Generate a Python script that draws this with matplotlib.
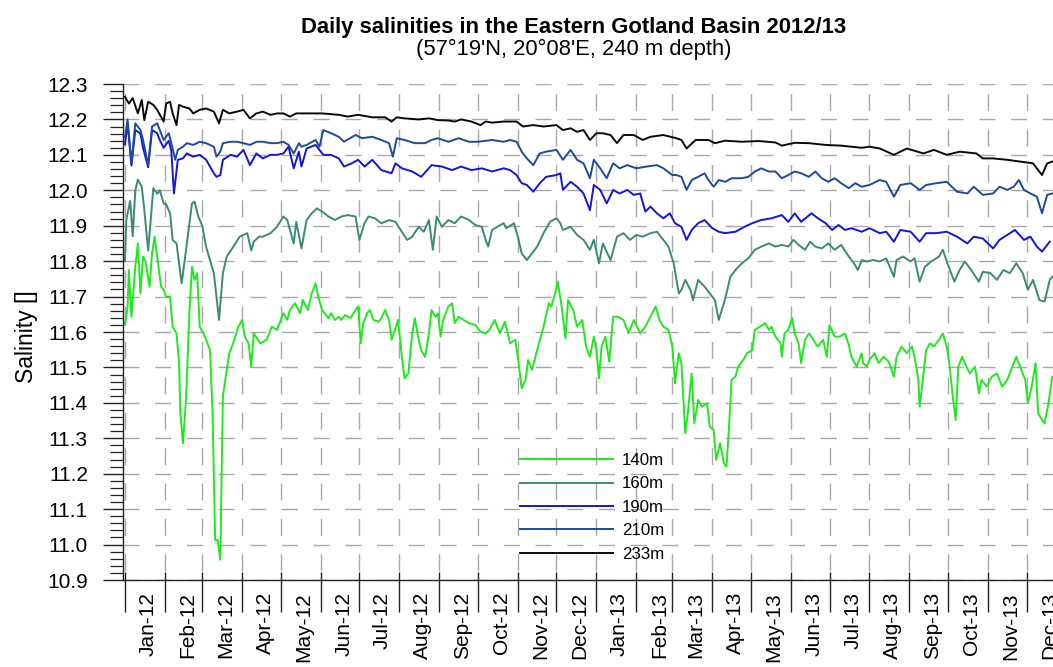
import numpy as np
import pandas as pd
import matplotlib
matplotlib.use("Agg")
import matplotlib.pyplot as plt
import matplotlib.dates as mdates
from matplotlib.ticker import MultipleLocator, FormatStrFormatter, NullFormatter

plt.rcParams['font.family'] = ['Liberation Sans', 'DejaVu Sans']

t0 = pd.Timestamp('2012-01-01')

# daily salinity, stored as (days since 1 Jan 2012, salinity)
s140 = [(0, 11.62), (2, 11.67), (3, 11.775), (5, 11.643), (8, 11.784), (10, 11.85), (12, 11.709), (14, 11.813),
        (16, 11.799), (19, 11.728), (21, 11.822), (23, 11.869), (26, 11.784), (28, 11.728), (30, 11.719), (32, 11.7),
        (35, 11.7), (37, 11.615), (40, 11.596), (42, 11.512), (43, 11.371), (45, 11.286), (47, 11.389), (48, 11.465),
        (50, 11.653), (52, 11.784), (54, 11.747), (56, 11.766), (58, 11.615), (61, 11.596), (63, 11.578), (66, 11.549),
        (68, 11.371), (70, 11.013), (72, 11.013), (74, 10.957), (75, 11.182), (76, 11.418), (79, 11.493), (81, 11.54),
        (84, 11.568), (88, 11.615), (91, 11.634), (93, 11.587), (96, 11.568), (98, 11.502), (100, 11.596), (105, 11.568),
        (110, 11.578), (114, 11.615), (118, 11.606), (123, 11.653), (126, 11.634), (128, 11.662), (132, 11.681),
        (136, 11.653), (138, 11.69), (142, 11.662), (145, 11.709), (148, 11.737), (150, 11.7), (153, 11.662),
        (155, 11.653), (158, 11.639), (160, 11.653), (163, 11.634), (166, 11.643), (168, 11.634), (171, 11.648),
        (175, 11.639), (179, 11.662), (181, 11.672), (183, 11.568), (185, 11.625), (188, 11.653), (190, 11.662),
        (193, 11.634), (197, 11.629), (199, 11.639), (202, 11.662), (205, 11.634), (207, 11.578), (210, 11.61),
        (212, 11.634), (215, 11.53), (217, 11.469), (220, 11.483), (223, 11.596), (225, 11.639), (228, 11.578),
        (230, 11.549), (233, 11.53), (236, 11.596), (238, 11.662), (241, 11.643), (243, 11.653), (245, 11.587),
        (247, 11.634), (251, 11.672), (254, 11.681), (256, 11.625), (259, 11.643), (263, 11.634), (267, 11.625),
        (272, 11.62), (276, 11.601), (280, 11.596), (283, 11.606), (287, 11.634), (291, 11.596), (295, 11.629),
        (299, 11.568), (303, 11.578), (305, 11.53), (308, 11.441), (311, 11.465), (313, 11.521), (316, 11.493),
        (320, 11.549), (325, 11.615), (329, 11.681), (331, 11.672), (334, 11.709), (336, 11.742), (339, 11.672),
        (342, 11.582), (344, 11.69), (348, 11.662), (351, 11.615), (355, 11.634), (358, 11.559), (361, 11.53),
        (364, 11.587), (366, 11.549), (368, 11.469), (370, 11.559), (373, 11.587), (376, 11.516), (379, 11.643),
        (383, 11.643), (387, 11.634), (391, 11.596), (395, 11.634), (400, 11.596), (404, 11.615), (408, 11.643),
        (412, 11.672), (415, 11.634), (418, 11.615), (422, 11.606), (425, 11.559), (427, 11.455), (430, 11.54),
        (432, 11.512), (435, 11.314), (437, 11.371), (440, 11.483), (442, 11.342), (445, 11.408), (448, 11.389),
        (452, 11.399), (454, 11.333), (457, 11.324), (459, 11.239), (462, 11.286), (465, 11.229), (467, 11.22),
        (469, 11.333), (471, 11.465), (474, 11.474), (476, 11.502), (480, 11.521), (483, 11.54), (487, 11.549),
        (489, 11.606), (493, 11.615), (497, 11.625), (500, 11.606), (502, 11.615), (505, 11.587), (509, 11.568),
        (510, 11.53), (512, 11.596), (515, 11.606), (518, 11.639), (520, 11.596), (523, 11.568), (525, 11.512),
        (528, 11.578), (531, 11.596), (533, 11.587), (536, 11.568), (538, 11.559), (542, 11.578), (545, 11.53),
        (547, 11.62), (551, 11.587), (555, 11.587), (559, 11.596), (562, 11.563), (564, 11.53), (568, 11.502),
        (572, 11.54), (573, 11.512), (576, 11.502), (578, 11.521), (582, 11.54), (585, 11.512), (589, 11.53),
        (593, 11.516), (597, 11.474), (599, 11.53), (603, 11.559), (607, 11.54), (611, 11.559), (613, 11.53),
        (616, 11.465), (617, 11.389), (620, 11.483), (622, 11.549), (625, 11.568), (628, 11.559), (632, 11.578),
        (635, 11.596), (638, 11.559), (640, 11.512), (643, 11.408), (645, 11.352), (647, 11.502), (650, 11.53),
        (652, 11.512), (656, 11.483), (660, 11.502), (663, 11.427), (665, 11.465), (669, 11.446), (673, 11.474),
        (677, 11.483), (681, 11.446), (685, 11.465), (688, 11.493), (692, 11.53), (695, 11.502), (699, 11.465),
        (701, 11.399), (704, 11.446), (707, 11.512), (709, 11.371), (712, 11.352), (714, 11.342), (717, 11.399),
        (720, 11.474)]

s160 = [(0, 11.80), (1, 11.916), (4, 11.97), (6, 11.87), (8, 12.0), (10, 12.03), (13, 12.01), (15, 11.945),
        (18, 11.83), (21, 11.963), (22, 12.006), (25, 11.99), (27, 12.0), (30, 11.963), (32, 11.96), (35, 11.935),
        (37, 11.86), (40, 11.85), (44, 11.737), (47, 11.82), (52, 11.963), (54, 11.968), (57, 11.925), (60, 11.9),
        (63, 11.84), (69, 11.766), (73, 11.634), (76, 11.766), (79, 11.813), (84, 11.84), (89, 11.869), (95, 11.879),
        (98, 11.83), (100, 11.855), (104, 11.869), (107, 11.869), (113, 11.879), (118, 11.897), (123, 11.926),
        (126, 11.916), (131, 11.85), (133, 11.911), (137, 11.836), (141, 11.916), (145, 11.935), (149, 11.949),
        (153, 11.94), (158, 11.926), (163, 11.916), (168, 11.926), (173, 11.93), (179, 11.926), (182, 11.86),
        (186, 11.907), (189, 11.926), (194, 11.921), (199, 11.907), (205, 11.916), (210, 11.911), (214, 11.888),
        (219, 11.86), (223, 11.869), (228, 11.897), (232, 11.883), (236, 11.916), (239, 11.832), (242, 11.926),
        (246, 11.897), (251, 11.916), (256, 11.907), (261, 11.926), (267, 11.916), (272, 11.902), (277, 11.897),
        (280, 11.86), (282, 11.841), (285, 11.888), (289, 11.897), (294, 11.907), (296, 11.893), (302, 11.907),
        (305, 11.869), (308, 11.822), (312, 11.803), (316, 11.822), (320, 11.841), (325, 11.879), (330, 11.911),
        (335, 11.921), (338, 11.907), (340, 11.888), (346, 11.897), (351, 11.874), (356, 11.86), (361, 11.832),
        (364, 11.86), (368, 11.794), (371, 11.85), (377, 11.803), (382, 11.869), (387, 11.879), (392, 11.86),
        (397, 11.874), (402, 11.869), (408, 11.879), (413, 11.883), (418, 11.86), (422, 11.841), (426, 11.794),
        (430, 11.709), (432, 11.719), (435, 11.747), (439, 11.719), (441, 11.69), (445, 11.747), (450, 11.728),
        (454, 11.709), (458, 11.69), (461, 11.634), (465, 11.681), (467, 11.709), (470, 11.756), (474, 11.775),
        (479, 11.794), (484, 11.808), (489, 11.832), (494, 11.841), (500, 11.85), (505, 11.841), (510, 11.846),
        (515, 11.841), (519, 11.86), (523, 11.846), (528, 11.832), (532, 11.855), (536, 11.841), (541, 11.836),
        (546, 11.85), (551, 11.832), (556, 11.846), (562, 11.813), (566, 11.794), (569, 11.775), (572, 11.803),
        (576, 11.799), (581, 11.803), (586, 11.799), (591, 11.808), (597, 11.756), (599, 11.803), (604, 11.813),
        (610, 11.799), (613, 11.808), (617, 11.742), (621, 11.784), (626, 11.799), (632, 11.813), (635, 11.832),
        (639, 11.789), (644, 11.742), (648, 11.775), (652, 11.799), (657, 11.775), (663, 11.742), (666, 11.77),
        (672, 11.766), (677, 11.747), (682, 11.775), (687, 11.766), (692, 11.794), (697, 11.766), (701, 11.719),
        (705, 11.747), (710, 11.69), (714, 11.686), (718, 11.747), (720, 11.756)]

s190 = [(0, 12.13), (2, 12.19), (5, 12.07), (8, 12.17), (12, 12.16), (14, 12.12), (18, 12.065), (21, 12.17),
        (25, 12.161), (27, 12.142), (30, 12.12), (34, 12.14), (36, 12.11), (38, 11.991), (41, 12.086), (45, 12.09),
        (48, 12.104), (53, 12.095), (58, 12.1), (63, 12.086), (69, 12.048), (71, 12.038), (74, 12.043), (76, 12.086),
        (82, 12.1), (87, 12.095), (92, 12.114), (97, 12.071), (102, 12.104), (107, 12.09), (113, 12.1), (118, 12.1),
        (123, 12.104), (127, 12.123), (131, 12.062), (135, 12.109), (137, 12.067), (141, 12.118), (148, 12.128),
        (151, 12.114), (154, 12.1), (160, 12.1), (166, 12.09), (170, 12.067), (176, 12.076), (181, 12.086),
        (186, 12.067), (192, 12.086), (199, 12.057), (207, 12.048), (210, 12.076), (215, 12.062), (223, 12.053),
        (230, 12.038), (238, 12.071), (246, 12.067), (254, 12.057), (261, 12.067), (269, 12.057), (277, 12.062),
        (285, 12.053), (294, 12.062), (299, 12.057), (304, 12.043), (308, 12.02), (312, 12.015), (317, 11.996),
        (322, 12.02), (327, 12.038), (335, 12.043), (338, 12.048), (340, 12.001), (346, 12.024), (351, 12.01),
        (356, 11.991), (361, 11.944), (364, 12.015), (369, 12.001), (374, 11.963), (379, 12.001), (384, 11.991),
        (390, 12.001), (395, 11.987), (400, 11.991), (404, 11.94), (408, 11.954), (413, 11.935), (418, 11.921),
        (423, 11.935), (427, 11.907), (432, 11.897), (436, 11.86), (440, 11.888), (445, 11.907), (450, 11.916),
        (456, 11.893), (461, 11.883), (466, 11.879), (474, 11.883), (481, 11.897), (487, 11.907), (494, 11.916),
        (502, 11.921), (510, 11.93), (515, 11.911), (520, 11.935), (525, 11.911), (533, 11.935), (538, 11.921),
        (544, 11.907), (549, 11.888), (554, 11.902), (559, 11.888), (564, 11.893), (572, 11.883), (578, 11.893),
        (586, 11.879), (591, 11.883), (597, 11.855), (602, 11.888), (610, 11.883), (617, 11.855), (622, 11.879),
        (630, 11.879), (638, 11.883), (646, 11.869), (654, 11.85), (659, 11.869), (666, 11.864), (674, 11.836),
        (679, 11.86), (685, 11.874), (691, 11.888), (698, 11.86), (703, 11.869), (708, 11.841), (712, 11.827),
        (718, 11.855)]

s210 = [(0, 12.15), (2, 12.2), (5, 12.076), (8, 12.189), (12, 12.17), (14, 12.142), (18, 12.071), (21, 12.18),
        (25, 12.189), (27, 12.17), (30, 12.142), (34, 12.161), (36, 12.133), (39, 12.086), (41, 12.114), (45, 12.123),
        (48, 12.133), (53, 12.128), (58, 12.137), (63, 12.133), (69, 12.123), (71, 12.095), (74, 12.109), (76, 12.133),
        (82, 12.137), (87, 12.137), (92, 12.133), (97, 12.128), (102, 12.137), (107, 12.137), (113, 12.133),
        (118, 12.133), (123, 12.137), (127, 12.128), (131, 12.104), (135, 12.133), (137, 12.123), (141, 12.128),
        (148, 12.142), (151, 12.123), (154, 12.17), (160, 12.161), (166, 12.151), (170, 12.137), (179, 12.156),
        (184, 12.147), (192, 12.151), (199, 12.142), (205, 12.133), (208, 12.095), (211, 12.147), (217, 12.142),
        (225, 12.133), (233, 12.133), (238, 12.142), (243, 12.147), (251, 12.137), (259, 12.147), (267, 12.137),
        (274, 12.137), (285, 12.142), (294, 12.137), (299, 12.142), (304, 12.137), (308, 12.109), (312, 12.09),
        (317, 12.071), (322, 12.104), (327, 12.109), (335, 12.114), (340, 12.086), (346, 12.114), (351, 12.086),
        (356, 12.076), (361, 12.034), (364, 12.086), (369, 12.062), (374, 12.034), (379, 12.076), (384, 12.062),
        (390, 12.071), (397, 12.062), (405, 12.067), (413, 12.071), (418, 12.062), (425, 12.043), (428, 12.043),
        (432, 12.038), (436, 12.001), (440, 12.029), (445, 12.038), (450, 12.048), (453, 12.029), (457, 12.01),
        (461, 12.029), (466, 12.024), (471, 12.034), (479, 12.034), (484, 12.038), (489, 12.053), (494, 12.062),
        (500, 12.053), (505, 12.053), (510, 12.034), (515, 12.043), (520, 12.053), (525, 12.048), (531, 12.038),
        (536, 12.053), (541, 12.034), (546, 12.024), (551, 12.034), (556, 12.02), (562, 12.006), (567, 12.02),
        (572, 12.01), (578, 12.015), (586, 12.029), (591, 12.024), (597, 11.982), (602, 12.015), (610, 12.02),
        (617, 12.001), (622, 12.015), (630, 12.02), (638, 12.024), (646, 11.996), (654, 11.991), (659, 12.01),
        (666, 11.987), (674, 11.991), (679, 12.01), (685, 12.001), (690, 12.01), (694, 12.029), (698, 12.001),
        (703, 11.991), (708, 11.982), (712, 11.935), (716, 11.987), (720, 11.991)]

s233 = [(0, 12.264), (3, 12.245), (6, 12.26), (10, 12.217), (13, 12.255), (15, 12.198), (18, 12.25), (22, 12.241),
        (25, 12.227), (30, 12.194), (32, 12.245), (35, 12.25), (37, 12.217), (40, 12.184), (42, 12.241), (45, 12.236),
        (50, 12.231), (53, 12.217), (58, 12.227), (63, 12.231), (69, 12.222), (73, 12.189), (76, 12.227), (81, 12.217),
        (87, 12.222), (92, 12.227), (97, 12.203), (102, 12.217), (107, 12.222), (113, 12.213), (118, 12.217),
        (123, 12.217), (128, 12.208), (133, 12.217), (141, 12.217), (153, 12.217), (166, 12.213), (173, 12.208),
        (181, 12.213), (192, 12.206), (202, 12.206), (207, 12.194), (211, 12.206), (217, 12.203), (228, 12.2),
        (236, 12.203), (243, 12.198), (251, 12.197), (256, 12.194), (261, 12.2), (269, 12.194), (276, 12.184),
        (280, 12.194), (285, 12.191), (294, 12.194), (304, 12.194), (309, 12.18), (317, 12.184), (325, 12.18),
        (335, 12.184), (340, 12.17), (346, 12.175), (351, 12.165), (356, 12.17), (361, 12.142), (366, 12.161),
        (371, 12.161), (377, 12.156), (382, 12.133), (387, 12.156), (395, 12.156), (402, 12.142), (408, 12.151),
        (418, 12.156), (428, 12.147), (432, 12.142), (436, 12.118), (443, 12.142), (453, 12.142), (458, 12.133),
        (466, 12.14), (479, 12.137), (492, 12.139), (505, 12.135), (510, 12.126), (520, 12.134), (531, 12.133),
        (544, 12.128), (556, 12.126), (572, 12.12), (578, 12.123), (586, 12.118), (597, 12.1), (607, 12.118),
        (620, 12.104), (628, 12.114), (638, 12.1), (648, 12.109), (661, 12.104), (666, 12.09), (674, 12.09),
        (685, 12.086), (695, 12.081), (705, 12.076), (712, 12.043), (716, 12.076), (720, 12.081)]

series = [s140, s160, s190, s210, s233]
depths = ['140m', '160m', '190m', '210m', '233m']
colours = ['#1fe81f', '#3a8c6c', '#1414dc', '#1e4a9c', '#0a0a0a']

PT = 0.72  # one pixel in points at 100 dpi

fig = plt.figure(figsize=(10.53, 6.67), dpi=100)
ax = fig.add_axes([123 / 1053, 87 / 667, 943.5 / 1053, 496 / 667])
ax.set_axisbelow(True)

for pts, lab, c in zip(series, depths, colours):
    d, v = np.array(pts, dtype=float).T
    ax.plot(t0 + pd.to_timedelta(d, unit='D'), v, color=c, lw=1.4, label=lab)

ax.set_ylim(10.9, 12.3)
ax.set_xlim(t0 - pd.Timedelta(days=1.55), t0 + pd.Timedelta(days=731))

# y axis
ax.yaxis.set_major_locator(MultipleLocator(0.1))
ax.yaxis.set_minor_locator(MultipleLocator(0.02))
ax.yaxis.set_major_formatter(FormatStrFormatter('%.1f'))
ax.tick_params(axis='y', which='major', direction='out', length=20 * PT, width=1.0,
               pad=15 * PT, labelsize=15, color='#222222')
ax.tick_params(axis='y', which='minor', direction='out', length=13 * PT, width=0.9, color='#222222')

# x axis: long ticks at month starts, labels inside each month
ax.xaxis.set_major_locator(mdates.MonthLocator())
ax.xaxis.set_major_formatter(NullFormatter())
ax.xaxis.set_minor_locator(mdates.MonthLocator(bymonthday=19))
ax.xaxis.set_minor_formatter(mdates.DateFormatter('%b-%y'))
ax.tick_params(axis='x', which='major', direction='out', length=32 * PT, width=1.0, color='#222222')
ax.tick_params(axis='x', which='minor', length=0, pad=12 * PT, labelsize=15, labelrotation=90)
month_starts = pd.date_range('2012-01-01', '2014-01-01', freq='MS')
ax.vlines(month_starts, 0, 8 / 496, transform=ax.get_xaxis_transform(), colors='#222222', lw=1.0)

for side in ['top', 'right']:
    ax.spines[side].set_visible(False)
for side in ['left', 'bottom']:
    ax.spines[side].set_linewidth(1.0)
    ax.spines[side].set_color('#222222')

# dashed grid
ax.yaxis.grid(True, which='major', color='#a8a8a8', lw=1.0, linestyle=(0, (16 * PT, 15.7 * PT)))
ax.xaxis.grid(True, which='major', color='#a8a8a8', lw=1.0, linestyle=(26.2 * PT, (17 * PT, 18.4 * PT)))

ax.legend(loc='upper left', bbox_to_anchor=(520 / 1053, 1 - 453 / 667), bbox_transform=fig.transFigure,
          frameon=False, fontsize=12.2, handlelength=5.5, handletextpad=0.52, labelspacing=0.5,
          borderpad=0, borderaxespad=0)

fig.text(573.5 / 1053, 1 - 28 / 667, 'Daily salinities in the Eastern Gotland Basin 2012/13',
         ha='center', va='center', fontsize=15.8, fontweight='bold')
fig.text(573.5 / 1053, 1 - 49 / 667, "(57°19'N, 20°08'E, 240 m depth)",
         ha='center', va='center', fontsize=15.8)
fig.text(26 / 1053, 1 - 337 / 667, 'Salinity []', rotation=90, ha='center', va='center', fontsize=16.6)

fig.savefig('out.png', dpi=100)
